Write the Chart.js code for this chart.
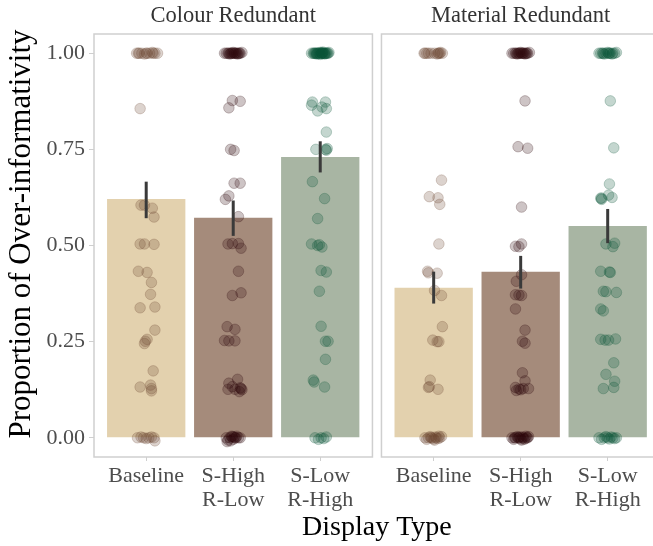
<!DOCTYPE html>
<html>
<head>
<meta charset="utf-8">
<script src="https://cdn.jsdelivr.net/npm/chart.js@4/dist/chart.umd.min.js"></script>
<style>
  html, body { margin: 0; padding: 0; background: #fff; overflow: hidden; }
  canvas { display: block; }
</style>
</head>
<body>
<canvas id="chart" width="666" height="546"></canvas>
<script>
// facets and categories
const facets = ['Colour Redundant', 'Material Redundant'];
const categories = [['Baseline'], ['S-High', 'R-Low'], ['S-Low', 'R-High']];
const yTicks = [0, 0.25, 0.5, 0.75, 1];

// mean proportions, one value per category, per facet
const colourMeans = [0.621, 0.572, 0.730];
const materialMeans = [0.390, 0.432, 0.551];
// error bar ends
const colourLow = [0.571, 0.525, 0.690];
const colourHigh = [0.666, 0.617, 0.771];
const materialLow = [0.349, 0.388, 0.506];
const materialHigh = [0.432, 0.473, 0.595];

// individual participants: [proportion, jitter]
const colourBaseline = [
  [1, -0.11], [1, -0.08], [1, -0.05], [0.998, -0.02], [1, 0.01], [1, 0.04], [1.002, 0.07], [1, 0.1], [1, 0.13],
  [1, -0.09], [1, 0.0], [1, 0.08],
  [0.856, -0.07], [0.605, -0.06], [0.605, -0.02], [0.597, 0.07], [0.574, 0.09], [0.504, -0.07], [0.504, -0.02],
  [0.503, 0.09], [0.433, -0.09], [0.43, 0.01], [0.404, 0.06], [0.373, 0.05], [0.338, -0.07], [0.34, 0.1],
  [0.28, 0.1], [0.256, 0.01], [0.251, -0.01], [0.245, -0.02], [0.174, 0.08], [0.132, -0.07], [0.137, 0.05],
  [0.128, 0.06], [0.122, 0.06],
  [0, -0.1], [0.002, -0.06], [0, -0.03], [-0.002, 0.0], [0, 0.03], [0.002, 0.06], [0, 0.09], [-0.008, 0.1]
];
const colourHigh1 = [
  [1, -0.1], [1, -0.08], [1, -0.06], [0.998, -0.04], [1, -0.02], [1.002, 0.0], [1, 0.01], [1, 0.03], [0.998, 0.05],
  [1, 0.06], [1, 0.08], [1.002, 0.1], [1, -0.05], [1, 0.02], [1, 0.04], [1, -0.01], [1, 0.07], [1, -0.03],
  [0.875, 0.08], [0.877, -0.01], [0.858, -0.05], [0.75, -0.03], [0.747, 0.01], [0.662, 0.01], [0.662, 0.08],
  [0.62, -0.09], [0.629, -0.05], [0.575, 0.06], [0.504, -0.06], [0.505, -0.01], [0.505, 0.06], [0.493, 0.09],
  [0.433, 0.06], [0.37, -0.01], [0.377, 0.09], [0.289, -0.07], [0.282, 0.02], [0.253, -0.1], [0.252, 0.02],
  [0.252, -0.05], [0.152, 0.05], [0.142, -0.05], [0.126, -0.06], [0.126, 0.02], [0.13, 0.08], [0.125, 0.1],
  [0.133, -0.01], [0.12, 0.07], [0.128, 0.09],
  [0, -0.08], [-0.006, -0.06], [0, -0.04], [0.004, -0.02], [-0.004, 0.0], [0, 0.02], [0.004, 0.04],
  [0, 0.06], [-0.008, -0.03], [0, 0.08], [0.002, 0.01], [-0.01, -0.07], [0, 0.03], [0.003, -0.01]
];
const colourLow1 = [
  [1, -0.1], [1, -0.08], [1, -0.06], [0.998, -0.04], [1, -0.02], [1.002, 0.0], [1, 0.01], [1, 0.03], [0.998, 0.05],
  [1, 0.06], [1, 0.08], [1.002, 0.1], [1, -0.05], [1, 0.02], [1, 0.04], [1, -0.01], [1, 0.07], [1, -0.03],
  [1, -0.07], [1, 0.09], [0.997, 0.0], [1.003, 0.03], [1, -0.04], [1, 0.05], [1, 0.02],
  [0.873, -0.09], [0.865, -0.1], [0.873, 0.06], [0.86, 0.02], [0.856, 0.07], [0.85, -0.03], [0.795, 0.07],
  [0.75, -0.05], [0.75, 0.06], [0.752, 0.08], [0.748, 0.07], [0.666, -0.09], [0.622, 0.05], [0.57, -0.03],
  [0.504, -0.1], [0.5, -0.03], [0.496, 0.02], [0.502, -0.01], [0.435, 0.01], [0.431, 0.07], [0.381, -0.01],
  [0.29, 0.01], [0.251, 0.06], [0.251, 0.09], [0.204, 0.06], [0.15, -0.08], [0.145, -0.07], [0.132, 0.05],
  [0, -0.06], [-0.004, -0.02], [0, 0.01], [-0.002, 0.04], [0.002, 0.07]
];
const materialBaseline = [
  [1, -0.11], [1, -0.08], [1, -0.06], [1, -0.03], [1, 0.01], [0.998, 0.04], [1, 0.06], [1.002, 0.08], [1, 0.1], [1, 0.05],
  [1, -0.1], [1, 0.07],
  [0.67, 0.09], [0.627, -0.05], [0.624, 0.05], [0.607, 0.07], [0.504, 0.06], [0.433, -0.07], [0.429, -0.06],
  [0.428, 0.04], [0.383, 0.01], [0.37, 0.09], [0.289, 0.1], [0.254, -0.01], [0.25, 0.04], [0.25, 0.06],
  [0.15, -0.04], [0.131, -0.06], [0.133, -0.05], [0.126, 0.05],
  [0, -0.1], [-0.004, -0.08], [0, -0.06], [0.003, -0.04], [0, -0.02], [-0.003, 0.0], [0.002, 0.02], [0, 0.03],
  [-0.002, 0.05], [0, 0.07], [0.003, 0.09], [-0.006, 0.01], [0, -0.03], [0.004, 0.06]
];
const materialHigh1 = [
  [1, -0.1], [1, -0.08], [1, -0.06], [0.998, -0.04], [1, -0.02], [1.002, 0.0], [1, 0.01], [1, 0.03], [0.998, 0.05],
  [1, 0.06], [1, 0.08], [1.002, 0.1], [1, -0.05], [1, 0.02], [1, 0.04], [1, -0.01], [1, 0.07], [1, -0.03],
  [0.876, 0.05], [0.757, -0.03], [0.753, 0.08], [0.6, 0.01], [0.498, -0.06], [0.504, 0.01], [0.497, -0.02],
  [0.424, 0.01], [0.407, -0.05], [0.372, -0.06], [0.371, -0.02], [0.37, 0.01], [0.335, -0.06], [0.28, 0.05],
  [0.251, 0.02], [0.246, 0.05], [0.169, 0.02], [0.148, 0.05], [0.131, -0.06], [0.127, -0.02], [0.128, 0.03],
  [0.128, 0.09], [0.123, -0.05], [0.125, 0.0],
  [0, -0.1], [-0.004, -0.08], [0, -0.06], [0.003, -0.04], [0, -0.02], [-0.003, 0.0], [0.002, 0.02], [0, 0.03],
  [-0.002, 0.05], [0, 0.07], [0.003, 0.09], [-0.006, 0.01], [0, -0.03], [0.004, 0.06], [0, -0.07], [-0.004, 0.04],
  [0.002, -0.01], [0, 0.08]
];
const materialLow1 = [
  [1, -0.1], [1, -0.08], [1, -0.06], [0.998, -0.04], [1, -0.02], [1.002, 0.0], [1, 0.01], [1, 0.03], [0.998, 0.05],
  [1, 0.06], [1, 0.08], [1.002, 0.1], [1, -0.05], [1, 0.02],
  [0.876, 0.03], [0.754, 0.07], [0.66, 0.02], [0.631, 0.01], [0.625, 0.05], [0.623, -0.07], [0.623, -0.08],
  [0.62, -0.07], [0.504, -0.02], [0.506, 0.08], [0.497, 0.06], [0.433, -0.08], [0.431, 0.02], [0.43, 0.03],
  [0.381, -0.05], [0.38, -0.02], [0.378, 0.1], [0.335, -0.08], [0.33, -0.05], [0.256, -0.08], [0.254, -0.03],
  [0.254, 0.01], [0.257, 0.09], [0.195, 0.07], [0.165, -0.02], [0.147, 0.08], [0.131, 0.07], [0.128, -0.05],
  [0, -0.1], [-0.004, -0.07], [0, -0.04], [0.003, -0.02], [0, 0.0], [-0.003, 0.02], [0.002, 0.04], [0, 0.06],
  [-0.002, 0.08], [0, 0.1]
];

// styling
const barColours = ['#e3d1ae', '#a58b7b', '#a8b5a3'];
const pointColours = ['107, 72, 50', '45, 8, 12', '8, 84, 56'];
const facetGap = 0.1036;
const facetSpan = 3.2;
const serif = "'Liberation Serif', 'DejaVu Serif', serif";

function catX(f, c) {
  return f * (facetSpan + facetGap) + c + 1;
}

const xPositions = [];
facets.forEach((f, fi) => categories.forEach((c, ci) => xPositions.push(catX(fi, ci))));

const means = colourMeans.concat(materialMeans);
const errLow = colourLow.concat(materialLow);
const errHigh = colourHigh.concat(materialHigh);

const groups = [colourBaseline, colourHigh1, colourLow1, materialBaseline, materialHigh1, materialLow1];

const pointSets = groups.map((g, i) => {
  const col = pointColours[i % 3];
  return {
    type: 'scatter',
    order: 1,
    data: g.map(p => ({ x: xPositions[i] + p[1], y: p[0] })),
    backgroundColor: 'rgba(' + col + ', 0.24)',
    borderColor: 'rgba(' + col + ', 0.3)',
    borderWidth: 0.8,
    pointRadius: 5.3
  };
});

const facetPlugin = {
  id: 'facets',
  afterDatasetsDraw(chart) {
    const ctx = chart.ctx;
    const x = chart.scales.x, y = chart.scales.y;
    // error bars
    ctx.save();
    ctx.strokeStyle = '#3a3a3a';
    ctx.lineWidth = 3;
    xPositions.forEach((xp, i) => {
      const px = x.getPixelForValue(xp);
      ctx.beginPath();
      ctx.moveTo(px, y.getPixelForValue(errLow[i]));
      ctx.lineTo(px, y.getPixelForValue(errHigh[i]));
      ctx.stroke();
    });
    ctx.restore();
  },
  afterDraw(chart) {
    const ctx = chart.ctx;
    const x = chart.scales.x;
    const area = chart.chartArea;
    ctx.save();
    ctx.strokeStyle = '#cfcfcf';
    ctx.lineWidth = 1.5;
    facets.forEach((name, fi) => {
      const left = x.getPixelForValue(fi * (facetSpan + facetGap) + 0.4);
      const right = x.getPixelForValue(fi * (facetSpan + facetGap) + 0.4 + facetSpan);
      ctx.strokeRect(left, area.top, right - left, area.bottom - area.top);
      ctx.fillStyle = '#333333';
      ctx.font = '22.5px ' + serif;
      ctx.textAlign = 'center';
      ctx.textBaseline = 'middle';
      ctx.fillText(name, (left + right) / 2, 16);
    });
    // axis titles
    ctx.fillStyle = '#000000';
    ctx.font = '28px ' + serif;
    ctx.textAlign = 'center';
    ctx.textBaseline = 'middle';
    ctx.fillText('Display Type', (area.left + area.right) / 2, 528);
    ctx.translate(22, 234);
    ctx.rotate(-Math.PI / 2);
    ctx.font = '31px ' + serif;
    ctx.fillText('Proportion of Over-informativity', 0, 0);
    ctx.restore();
  }
};

new Chart(document.getElementById('chart'), {
  type: 'bar',
  data: {
    datasets: [{
      type: 'bar',
      order: 2,
      data: xPositions.map((xp, i) => ({ x: xp, y: means[i] })),
      backgroundColor: xPositions.map((xp, i) => barColours[i % 3]),
      barPercentage: 0.9,
      categoryPercentage: 1.0
    }].concat(pointSets)
  },
  options: {
    responsive: false,
    animation: false,
    events: [],
    layout: { padding: { top: 34, left: 0, right: 0, bottom: 0 } },
    plugins: { legend: { display: false }, tooltip: { enabled: false } },
    scales: {
      x: {
        type: 'linear',
        offset: false,
        min: 0.4,
        max: 1 * (facetSpan + facetGap) + 0.4 + facetSpan,
        afterBuildTicks: s => { s.ticks = xPositions.map(v => ({ value: v })); },
        afterFit: s => { s.height = 89; s.paddingLeft = 0; s.paddingRight = 0; },
        grid: { offset: false, drawOnChartArea: false, drawTicks: true, tickLength: 4, color: '#cfcfcf' },
        border: { display: false },
        ticks: {
          autoSkip: false,
          maxRotation: 0,
          padding: 3,
          color: '#4d4d4d',
          font: { family: serif, size: 22, lineHeight: 1.1 },
          callback: (v, i) => categories[i % 3]
        }
      },
      y: {
        min: -0.05,
        max: 1.05,
        afterBuildTicks: s => { s.ticks = yTicks.map(v => ({ value: v })); },
        afterFit: s => { s.width = 94; s.paddingTop = 0; s.paddingBottom = 0; },
        grid: { drawOnChartArea: false, drawTicks: true, tickLength: 5, color: '#cfcfcf' },
        border: { display: false },
        ticks: {
          padding: 4,
          color: '#4d4d4d',
          font: { family: serif, size: 22 },
          callback: v => v.toFixed(2)
        }
      }
    }
  },
  plugins: [facetPlugin]
});
</script>
</body>
</html>
